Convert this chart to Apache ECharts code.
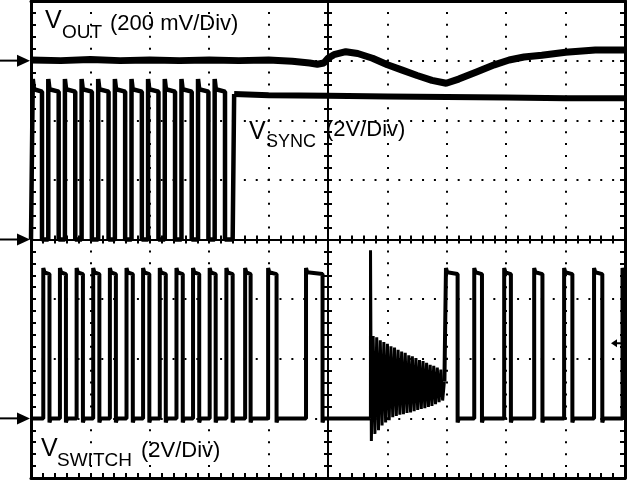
<!DOCTYPE html>
<html><head><meta charset="utf-8">
<script src="https://cdn.jsdelivr.net/npm/echarts@6/dist/echarts.min.js"></script>
<style>html,body{margin:0;padding:0;background:#fff}#c{width:630px;height:480px}</style>
</head><body><div id="c"></div>
<script>
// ---------- data, in scope divisions (x: 0..10, y: 0..8 from bottom) ----------
const voutX = [0, 0.5, 1, 1.5, 2, 2.5, 3, 3.5, 4, 4.4, 4.69, 4.82, 4.93, 5.0, 5.1, 5.3, 5.5, 5.75, 6.0, 6.25, 6.5, 6.75, 6.99, 7.2, 7.5, 7.8, 8.05, 8.3, 8.6, 9.0, 9.5, 10];
const voutY = [7.01, 7.0, 7.02, 7.0, 7.01, 7.0, 7.01, 7.0, 7.01, 6.99, 6.96, 6.94, 6.96, 7.04, 7.10, 7.15, 7.12, 7.04, 6.93, 6.84, 6.75, 6.67, 6.62, 6.69, 6.81, 6.93, 7.01, 7.06, 7.09, 7.14, 7.18, 7.18];

const syncRise = [0.03, 0.291, 0.571, 0.852, 1.131, 1.412, 1.692, 1.971, 2.252, 2.533, 2.812, 3.092];
const syncFall = [0.185, 0.466, 0.745, 1.025, 1.306, 1.585, 1.866, 2.146, 2.425, 2.706, 2.987, 3.266];
const syncLevels = {low: 4.0, high: 6.52, peak: 6.69};
const syncTailX = [3.395, 3.42, 4, 5, 6, 7, 8, 9, 10];
const syncTailY = [4.0, 6.44, 6.42, 6.41, 6.40, 6.39, 6.38, 6.37, 6.37];

const swRise = [0.207, 0.487, 0.768, 1.047, 1.328, 1.608, 1.887, 2.168, 2.449, 2.728, 3.008, 3.289, 3.605, 3.992, 4.630];
const swFall = [0.311, 0.588, 0.874, 1.151, 1.429, 1.714, 1.992, 2.269, 2.555, 2.832, 3.109, 3.395, 3.697, 4.134, 4.908];
const swRise2 = [6.986, 7.462, 7.966, 8.471, 8.975, 9.479, 9.958];
const swFall2 = [7.182, 7.592, 8.079, 8.610, 9.114, 9.618, 10];
const swLevels = {low: 1.0, high: 3.45, peak: 3.52, dip: 0.93};

const ringX = [5.714, 5.716, 5.73, 5.76, 5.79, 5.82, 5.85, 5.88, 5.91, 5.94, 5.97, 6.00, 6.03, 6.06, 6.09, 6.12, 6.15, 6.18, 6.21, 6.24, 6.27, 6.30, 6.33, 6.36, 6.39, 6.42, 6.45, 6.48, 6.51, 6.54, 6.57, 6.60, 6.63, 6.66, 6.69, 6.72, 6.75, 6.78, 6.81, 6.84, 6.87, 6.90, 6.93, 6.96];
const ringY = [1.00, 3.82, 0.62, 2.38, 0.74, 2.36, 0.80, 2.31, 0.88, 2.28, 0.93, 2.25, 0.97, 2.21, 1.02, 2.19, 1.04, 2.15, 1.06, 2.12, 1.07, 2.10, 1.09, 2.06, 1.10, 2.04, 1.12, 2.01, 1.14, 1.98, 1.16, 1.96, 1.17, 1.93, 1.19, 1.90, 1.21, 1.88, 1.24, 1.85, 1.27, 1.82, 1.30, 1.62];

const groundLevels = [7.0, 4.0, 1.0];   // left channel markers
const triggerLevel = 2.26;              // right marker

const labelMain = ['V', 'V', 'V'];
const labelSub = ['OUT', 'SYNC', 'SWITCH'];
const labelNote = ['(200 mV/Div)', '(2V/Div)', '(2V/Div)'];

// ---------- build series data ----------
const zip = (xs, ys) => xs.map((x, i) => [x, ys[i]]);
const voutData = zip(voutX, voutY);

const syncData = [[0, syncLevels.low]];
syncRise.forEach((r, i) => {
  const f = syncFall[i];
  syncData.push([r, syncLevels.low], [r, syncLevels.peak], [r + 0.02, syncLevels.high], [f, syncLevels.high - 0.04], [f, syncLevels.low]);
});
syncData.push([syncTailX[0], syncLevels.low], [syncTailX[1], syncTailY[1]]);
const syncTail = zip(syncTailX.slice(1), syncTailY.slice(1));

function pulses(rises, falls, startPt, endLow) {
  const d = [startPt];
  rises.forEach((r, i) => {
    const f = falls[i];
    if (i > 0 || startPt[1] === swLevels.low) d.push([r, swLevels.low]);
    d.push([r, swLevels.peak], [r + 0.02, swLevels.high]);
    if (f >= 10) { d.push([10, swLevels.high]); return; }
    d.push([f, swLevels.high - 0.03], [f, swLevels.dip], [f + 0.02, swLevels.low]);
  });
  if (endLow != null) d.push([endLow, swLevels.low]);
  return d;
}
const swA = pulses(swRise, swFall, [0, swLevels.low], ringX[0]);
const swB = pulses(swRise2, swFall2, [ringX[ringX.length - 1], ringY[ringY.length - 1]], null);
const ringData = zip(ringX, ringY);

// ---------- chart ----------
const BLACK = '#000';
const G = {left: 31, top: 1, width: 594, height: 477};
const dotV = {show: true, lineStyle: {color: BLACK, width: 2, type: [2, G.height / 40 - 2], dashOffset: 1}};
const dotH = {show: true, lineStyle: {color: BLACK, width: 2, type: [2, G.width / 50 - 2], dashOffset: 1}};

function frameAxis(opt) {
  return Object.assign({
    type: 'value', interval: 1,
    axisLine: {show: true, onZero: false, lineStyle: {color: BLACK, width: 3}},
    axisTick: {show: true, inside: true, length: 5, lineStyle: {color: BLACK, width: 2}},
    minorTick: {show: true, splitNumber: 5, length: 5, lineStyle: {color: BLACK, width: 2}},
    axisLabel: {show: false}, splitLine: {show: false}, minorSplitLine: {show: false}
  }, opt);
}
function centerAxis(opt) {
  return Object.assign({
    type: 'value', interval: 1, gridIndex: 1,
    axisLine: {show: true, onZero: true, lineStyle: {color: BLACK, width: 2}},
    axisTick: {show: true, inside: true, length: 4, lineStyle: {color: BLACK, width: 2}},
    minorTick: {show: true, splitNumber: 5, length: 4, lineStyle: {color: BLACK, width: 2}},
    axisLabel: {show: false}, splitLine: {show: false}, minorSplitLine: {show: false}
  }, opt);
}
const lineSeries = (data, width) => ({
  type: 'line', xAxisIndex: 0, yAxisIndex: 0, data, showSymbol: false, symbol: 'none',
  lineStyle: {color: BLACK, width}, silent: true, animation: false, z: 5
});

const chart = echarts.init(document.getElementById('c'));
chart.setOption({
  animation: false,
  backgroundColor: '#fff',
  grid: [Object.assign({outerBoundsMode: 'none'}, G), Object.assign({outerBoundsMode: 'none'}, G)],
  xAxis: [
    frameAxis({gridIndex: 0, min: 0, max: 10, position: 'bottom', splitLine: dotV}),
    frameAxis({gridIndex: 0, min: 0, max: 10, position: 'top', axisTick: {show: false}, minorTick: {show: false}}),
    centerAxis({min: -5, max: 5, position: 'bottom'}),
    centerAxis({min: -5, max: 5, position: 'top'})
  ],
  yAxis: [
    frameAxis({gridIndex: 0, min: 0, max: 8, position: 'left', splitLine: dotH}),
    frameAxis({gridIndex: 0, min: 0, max: 8, position: 'right'}),
    centerAxis({min: -4, max: 4, position: 'left'}),
    centerAxis({min: -4, max: 4, position: 'right'})
  ],
  series: [
    lineSeries(voutData, 7),
    lineSeries(syncData, 4.5),
    lineSeries(syncTail, 6),
    lineSeries(swA, 4),
    lineSeries(ringData, 3),
    lineSeries(swB, 4)
  ]
});

// ---------- annotations (labels and level markers) ----------
const FONT = '"Liberation Sans", Arial, Helvetica, sans-serif';
const labelPos = [
  {x: 45, base: 30, subX: 62, subBase: 39, noteX: 110, noteBase: 31.5},
  {x: 249, base: 141, subX: 266, subBase: 148, noteX: 326, noteBase: 138},
  {x: 41, base: 458, subX: 57, subBase: 467, noteX: 141, noteBase: 459}
];
const subFs = [19, 18, 19];
const txt = (s, x, base, fs) => ({
  type: 'text', x, y: base - 0.35 * fs, silent: true, z: 20,
  style: {text: s, fill: BLACK, font: fs + 'px ' + FONT, verticalAlign: 'middle', align: 'left'}
});
const graphics = [];
labelPos.forEach((p, i) => {
  graphics.push(txt(labelMain[i], p.x, p.base, 25));
  graphics.push(txt(labelSub[i], p.subX, p.subBase, subFs[i]));
  graphics.push(txt(labelNote[i], p.noteX, p.noteBase, 22));
});
groundLevels.forEach(v => {
  const y = chart.convertToPixel({gridIndex: 0}, [0, v])[1];
  graphics.push({type: 'line', silent: true, z: 20, shape: {x1: 0, y1: y, x2: 20, y2: y}, style: {stroke: BLACK, lineWidth: 2}});
  graphics.push({type: 'polygon', silent: true, z: 20, shape: {points: [[17, y - 6], [30, y], [17, y + 6]]}, style: {fill: BLACK}});
});
{
  const y = chart.convertToPixel({gridIndex: 0}, [10, triggerLevel])[1];
  graphics.push({type: 'line', silent: true, z: 20, shape: {x1: 615, y1: y, x2: 623, y2: y}, style: {stroke: BLACK, lineWidth: 2}});
  graphics.push({type: 'polygon', silent: true, z: 20, shape: {points: [[611, y], [617, y - 4], [617, y + 4]]}, style: {fill: BLACK}});
}
chart.setOption({graphic: graphics});
</script>
</body></html>
